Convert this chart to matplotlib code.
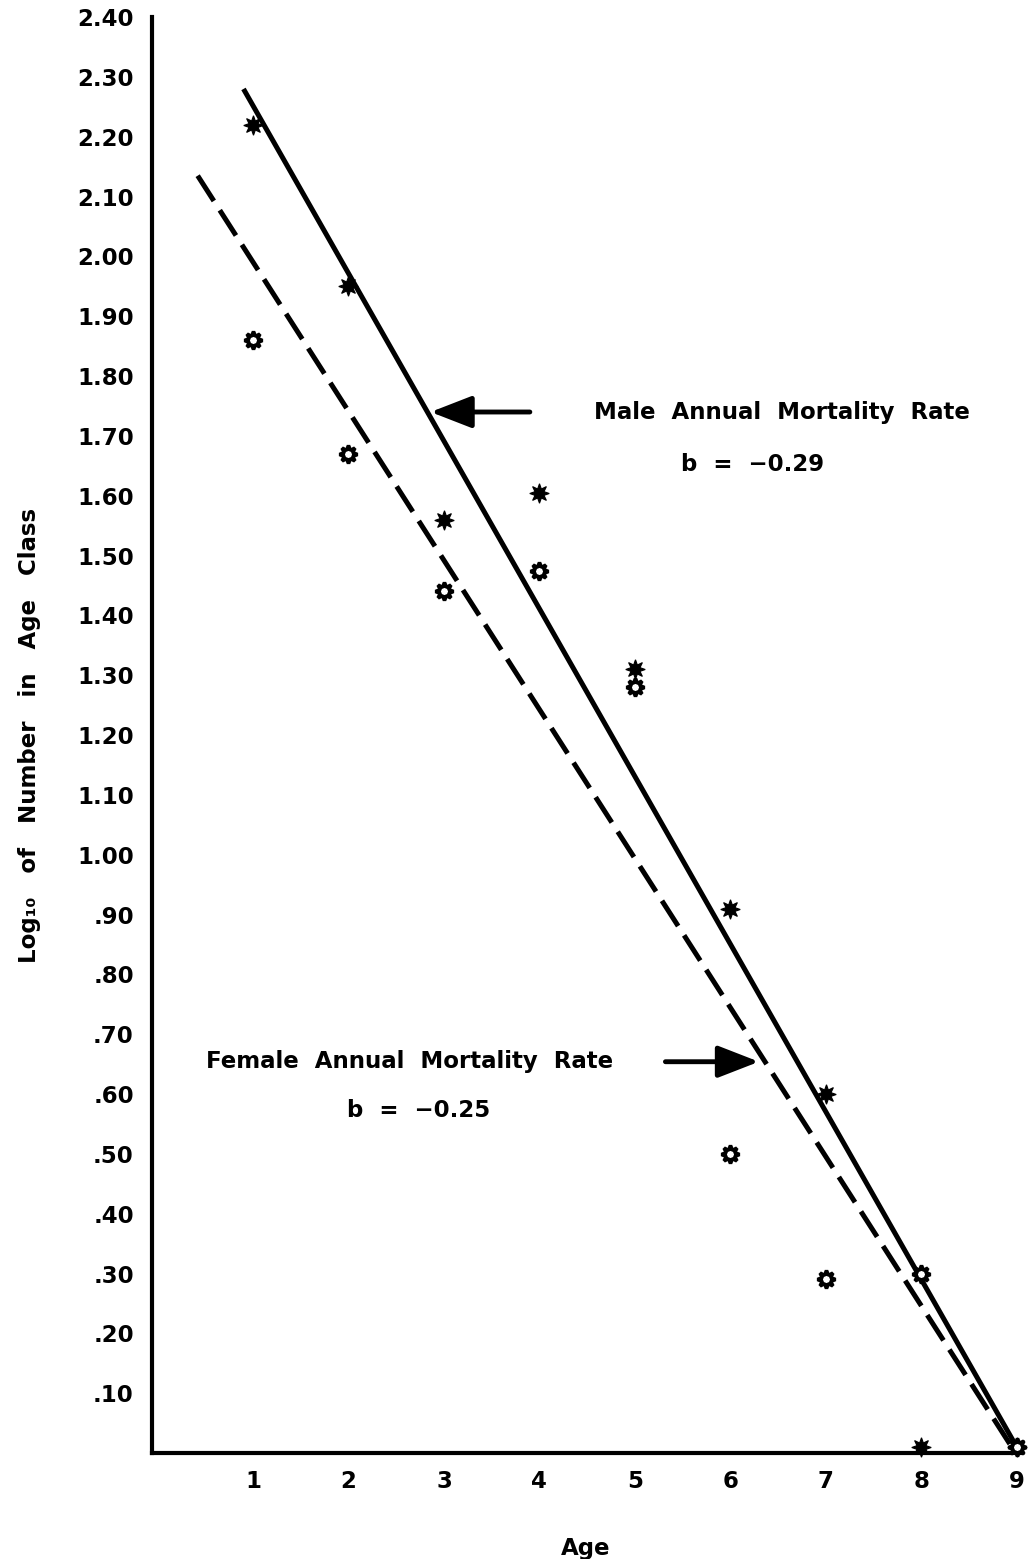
import matplotlib.pyplot as plt

# ages and log10 counts
ages = [1, 2, 3, 4, 5, 6, 7, 8, 9]
male_log = [2.22, 1.95, 1.56, 1.605, 1.31, 0.91, 0.60, 0.01, 0.01]
female_log = [1.86, 1.67, 1.44, 1.475, 1.28, 0.50, 0.29, 0.30, 0.01]

# fitted regression lines (end points)
male_fit_x = [0.90, 9.0]
male_fit_y = [2.28, 0.01]
female_fit_x = [0.42, 8.94]
female_fit_y = [2.135, 0.012]

y_ticks = [0.1, 0.2, 0.3, 0.4, 0.5, 0.6, 0.7, 0.8, 0.9, 1.0, 1.1, 1.2,
           1.3, 1.4, 1.5, 1.6, 1.7, 1.8, 1.9, 2.0, 2.1, 2.2, 2.3, 2.4]
y_labels = ['.10', '.20', '.30', '.40', '.50', '.60', '.70', '.80', '.90',
            '1.00', '1.10', '1.20', '1.30', '1.40', '1.50', '1.60', '1.70',
            '1.80', '1.90', '2.00', '2.10', '2.20', '2.30', '2.40']

plt.rcParams['font.family'] = ['DejaVu Sans']
plt.rcParams['font.weight'] = 'bold'

fig = plt.figure(figsize=(10.33, 15.59), dpi=100)
ax = fig.add_axes([0.147, 0.068, 0.840, 0.921])

# fitted lines
ax.plot(male_fit_x, male_fit_y, color='black', lw=3.6, solid_capstyle='butt')
ax.plot(female_fit_x, female_fit_y, color='black', lw=3.6,
        linestyle=(0, (6.0, 2.2)), dash_capstyle='butt')

# observed points (sunburst stars)
star = (8, 1, 0)
ax.plot(ages, male_log, linestyle='none', marker=star, ms=14,
        mfc='black', mec='black', mew=0.8, clip_on=False, zorder=5)
ax.plot(ages, female_log, linestyle='none', marker=star, ms=13,
        mfc='white', mec='black', mew=2.6, clip_on=False, zorder=5)

# annotations
ax.annotate('', xy=(2.86, 1.74), xytext=(3.90, 1.74),
            arrowprops=dict(arrowstyle='-|>,head_length=0.9,head_width=0.35',
                            lw=3.5, color='black', mutation_scale=28,
                            shrinkA=0, shrinkB=0))
ax.text(6.54, 1.74, 'Male  Annual  Mortality  Rate', ha='center', va='center',
        fontsize=16.5, fontweight='bold')
ax.text(6.23, 1.653, 'b  =  \u22120.29', ha='center', va='center',
        fontsize=16.5, fontweight='bold')

ax.annotate('', xy=(6.30, 0.654), xytext=(5.32, 0.654),
            arrowprops=dict(arrowstyle='-|>,head_length=0.9,head_width=0.35',
                            lw=3.5, color='black', mutation_scale=28,
                            shrinkA=0, shrinkB=0))
ax.text(2.64, 0.654, 'Female  Annual  Mortality  Rate', ha='center', va='center',
        fontsize=16.5, fontweight='bold')
ax.text(2.73, 0.573, 'b  =  \u22120.25', ha='center', va='center',
        fontsize=16.5, fontweight='bold')

# axes
ax.set_xlim(-0.06, 9.03)
ax.set_ylim(0, 2.40)
ax.set_xticks(ages)
ax.set_xticklabels([str(a) for a in ages], fontsize=16.5, fontweight='bold')
ax.set_yticks(y_ticks)
ax.set_yticklabels(y_labels, fontsize=16.5, fontweight='bold')
ax.tick_params(axis='both', length=0)
ax.tick_params(axis='x', pad=12)
ax.tick_params(axis='y', pad=13)
for s in ['top', 'right']:
    ax.spines[s].set_visible(False)
for s in ['left', 'bottom']:
    ax.spines[s].set_linewidth(3)

ax.set_xlabel('Age', fontsize=16.5, fontweight='bold', labelpad=32)
ax.yaxis.set_label_coords(-0.128, 0.50)
ax.set_ylabel('Log\u2081\u2080   of   Number   in   Age   Class',
              fontsize=16.5, fontweight='bold')

fig.savefig('out.png', dpi=100)
